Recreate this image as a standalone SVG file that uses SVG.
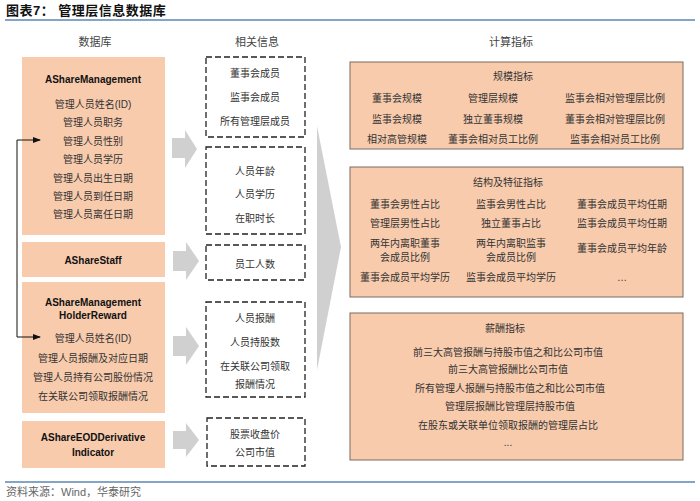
<svg xmlns="http://www.w3.org/2000/svg" width="700" height="501" viewBox="0 0 700 501">
<style>
.cn{font-family:"Liberation Sans","Noto Sans CJK SC",sans-serif;font-size:10px;fill:#333;text-anchor:middle}
.en{font-family:"Liberation Sans","Noto Sans CJK SC",sans-serif;font-size:10px;font-weight:bold;fill:#111;text-anchor:middle}
.hd{font-family:"Liberation Sans","Noto Sans CJK SC",sans-serif;font-size:11px;fill:#444;text-anchor:middle}
.db{fill:#f8cbad}
.dash{fill:#fff;stroke:#222;stroke-width:1.3;stroke-dasharray:6,3}
.panel{fill:#f8cbad;stroke:#7a6a60;stroke-width:1}
.garrow{fill:#d0d0d0}
.rule{stroke:#5b87b5;stroke-width:1.5}
</style>
<defs>
<marker id="ah" markerWidth="8" markerHeight="8" refX="7" refY="4" orient="auto" markerUnits="userSpaceOnUse">
<path d="M0,1 L8,4 L0,7 Z" fill="#111"/>
</marker>
</defs>
<rect x="0" y="0" width="700" height="501" fill="#fff"/>
<text x="6" y="15" style="font-family:'Liberation Sans','Noto Sans CJK SC',sans-serif;font-size:13px;font-weight:bold;fill:#111;letter-spacing:0.5px">图表7：  管理层信息数据库</text>
<line class="rule" x1="5" y1="20" x2="695" y2="20"/>
<text class="hd" x="95" y="46">数据库</text>
<text class="hd" x="257" y="46">相关信息</text>
<text class="hd" x="511" y="46">计算指标</text>

<g id="db1">
<rect class="db" x="22" y="57" width="143" height="178"/>
<text class="en" x="93" y="83">AShareManagement</text>
<text class="cn" x="93" y="108">管理人员姓名(ID)</text>
<text class="cn" x="93" y="126">管理人员职务</text>
<text class="cn" x="93" y="145">管理人员性别</text>
<text class="cn" x="93" y="163">管理人员学历</text>
<text class="cn" x="93" y="182">管理人员出生日期</text>
<text class="cn" x="93" y="200">管理人员到任日期</text>
<text class="cn" x="93" y="218">管理人员离任日期</text>
</g>
<g id="db2">
<rect class="db" x="22" y="242" width="143" height="35"/>
<text class="en" x="93" y="264">AShareStaff</text>
</g>
<g id="db3">
<rect class="db" x="22" y="282" width="143" height="131"/>
<text class="en" x="93" y="306">AShareManagement</text>
<text class="en" x="93" y="319">HolderReward</text>
<text class="cn" x="93" y="342">管理人员姓名(ID)</text>
<text class="cn" x="93" y="362">管理人员报酬及对应日期</text>
<text class="cn" x="93" y="381">管理人员持有公司股份情况</text>
<text class="cn" x="93" y="400">在关联公司领取报酬情况</text>
</g>
<g id="db4">
<rect class="db" x="22" y="421" width="143" height="47"/>
<text class="en" x="93" y="441">AShareEODDerivative</text>
<text class="en" x="93" y="456">Indicator</text>
</g>

<g id="info1">
<rect class="dash" x="206" y="57" width="99" height="80"/>
<text class="cn" x="255" y="77">董事会成员</text>
<text class="cn" x="255" y="101">监事会成员</text>
<text class="cn" x="255" y="125">所有管理层成员</text>
</g>
<g id="info2">
<rect class="dash" x="206" y="147" width="99" height="87"/>
<text class="cn" x="255" y="175">人员年龄</text>
<text class="cn" x="255" y="198">人员学历</text>
<text class="cn" x="255" y="222">在职时长</text>
</g>
<g id="info3">
<rect class="dash" x="206" y="245" width="99" height="35"/>
<text class="cn" x="255" y="268">员工人数</text>
</g>
<g id="info4">
<rect class="dash" x="206" y="302" width="99" height="95"/>
<text class="cn" x="255" y="322">人员报酬</text>
<text class="cn" x="255" y="346">人员持股数</text>
<text class="cn" x="255" y="370">在关联公司领取</text>
<text class="cn" x="255" y="388">报酬情况</text>
</g>
<g id="info5">
<rect class="dash" x="207" y="418" width="98" height="48"/>
<text class="cn" x="255" y="438">股票收盘价</text>
<text class="cn" x="255" y="456">公司市值</text>
</g>

<g id="metric1">
<rect class="panel" x="350" y="62" width="333" height="87"/>
<text class="cn" x="513" y="80">规模指标</text>
<text class="cn" x="397" y="102">董事会规模</text>
<text class="cn" x="493" y="102">管理层规模</text>
<text class="cn" x="615" y="102">监事会相对管理层比例</text>
<text class="cn" x="397" y="123">监事会规模</text>
<text class="cn" x="493" y="123">独立董事规模</text>
<text class="cn" x="615" y="123">董事会相对管理层比例</text>
<text class="cn" x="397" y="143">相对高管规模</text>
<text class="cn" x="493" y="143">董事会相对员工比例</text>
<text class="cn" x="615" y="143">监事会相对员工比例</text>
</g>
<g id="metric2">
<rect class="panel" x="350" y="167" width="333" height="130"/>
<text class="cn" x="508" y="186">结构及特征指标</text>
<text class="cn" x="405" y="208">董事会男性占比</text>
<text class="cn" x="511" y="208">监事会男性占比</text>
<text class="cn" x="622" y="208">董事会成员平均任期</text>
<text class="cn" x="405" y="227">管理层男性占比</text>
<text class="cn" x="511" y="227">独立董事占比</text>
<text class="cn" x="622" y="227">监事会成员平均任期</text>
<text class="cn" x="405" y="247">两年内离职董事</text>
<text class="cn" x="405" y="261">会成员比例</text>
<text class="cn" x="511" y="247">两年内离职监事</text>
<text class="cn" x="511" y="261">会成员比例</text>
<text class="cn" x="622" y="252">董事会成员平均年龄</text>
<text class="cn" x="405" y="281">董事会成员平均学历</text>
<text class="cn" x="511" y="281">监事会成员平均学历</text>
<text class="cn" x="622" y="281">…</text>
</g>
<g id="metric3">
<rect class="panel" x="350" y="313" width="333" height="147"/>
<text class="cn" x="505" y="332">薪酬指标</text>
<text class="cn" x="508" y="356">前三大高管报酬与持股市值之和比公司市值</text>
<text class="cn" x="508" y="373">前三大高管报酬比公司市值</text>
<text class="cn" x="510" y="392">所有管理人报酬与持股市值之和比公司市值</text>
<text class="cn" x="510" y="410">管理层报酬比管理层持股市值</text>
<text class="cn" x="508" y="429">在股东或关联单位领取报酬的管理层占比</text>
<text class="cn" x="508" y="446">...</text>
</g>

<g id="connectors">
<path class="garrow" d="M172,138 H185 V130 L197,149 L185,168 V158 H172 Z"/>
<path class="garrow" d="M173,251 H186 V242 L199,261 L186,280 V271 H173 Z"/>
<path class="garrow" d="M173,336 H186 V327 L199,346 L186,365 V356 H173 Z"/>
<path class="garrow" d="M173,431 H186 V423 L199,440 L186,457 V449 H173 Z"/>
<path class="garrow" d="M317,126 L341,247 L317,370 Z"/>
<polyline points="17,140 17,337" fill="none" stroke="#111" stroke-width="1"/>
<line x1="17" y1="140" x2="40" y2="140" stroke="#111" stroke-width="1" marker-end="url(#ah)"/>
<line x1="17" y1="337" x2="40" y2="337" stroke="#111" stroke-width="1" marker-end="url(#ah)"/>
</g>

<line class="rule" x1="5" y1="482" x2="695" y2="482"/>
<text x="6" y="496" style="font-family:'Liberation Sans','Noto Sans CJK SC',sans-serif;font-size:11px;fill:#666">资料来源：Wind，华泰研究</text>
</svg>
